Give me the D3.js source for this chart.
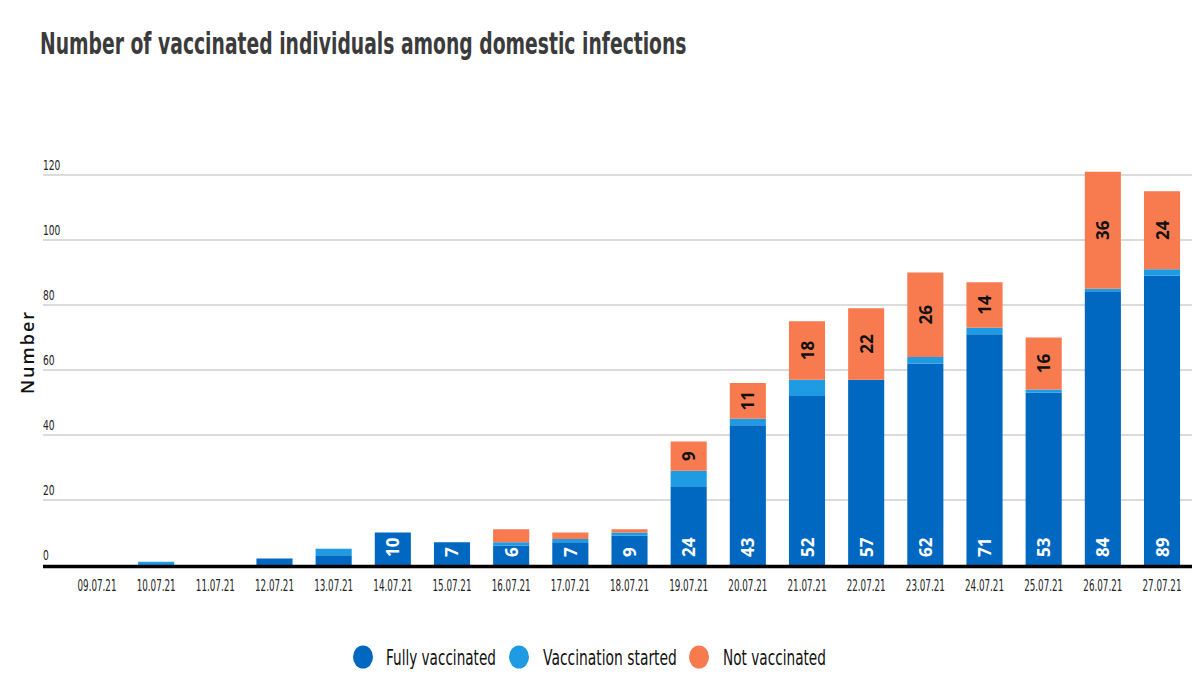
<!DOCTYPE html>
<html>
<head>
<meta charset="utf-8">
<script src="https://cdn.jsdelivr.net/npm/d3@7"></script>
<style>
  html, body { margin: 0; padding: 0; background: #fff; }
  svg { display: block; }
</style>
</head>
<body>
<svg id="chart" width="1200" height="681"></svg>
<script>
const dates = ["09.07.21","10.07.21","11.07.21","12.07.21","13.07.21","14.07.21","15.07.21","16.07.21","17.07.21","18.07.21","19.07.21","20.07.21","21.07.21","22.07.21","23.07.21","24.07.21","25.07.21","26.07.21","27.07.21"];
const fullyVaccinated    = [0, 0, 0, 2, 3, 10, 7, 6, 7, 9, 24, 43, 52, 57, 62, 71, 53, 84, 89];
const vaccinationStarted = [0, 1, 0, 0, 2, 0, 0, 1, 1, 1, 5, 2, 5, 0, 2, 2, 1, 1, 2];
const notVaccinated      = [0, 0, 0, 0, 0, 0, 0, 4, 2, 1, 9, 11, 18, 22, 26, 14, 16, 36, 24];
const yTicks = [0, 20, 40, 60, 80, 100, 120];
const seriesNames = ["Fully vaccinated", "Vaccination started", "Not vaccinated"];
const seriesColors = ["#0068c1", "#1e9be2", "#f87b4f"];
const title = "Number of vaccinated individuals among domestic infections";
const yAxisTitle = "Number";

const svg = d3.select("#chart");
const base = "'DejaVu Sans', sans-serif";

// squeeze a text horizontally to a target width (condensed look)
function fit(sel, width, tx, ty) {
  sel.each(function () {
    const w = this.getComputedTextLength();
    const s = w > 0 ? width / w : 1;
    d3.select(this).attr("transform", `translate(${tx},${ty}) scale(${s},1)`);
  });
}

const x = d3.scaleBand().domain(dates).range([67.4, 1191.6]).paddingInner(0.39).paddingOuter(0.195);
const y = d3.scaleLinear().domain([0, 120]).range([565, 175]);
const gridX0 = 43, gridX1 = 1192;

// Title
svg.append("text")
  .attr("x", 0).attr("y", 0)
  .attr("font-family", base).attr("font-weight", 700)
  .attr("font-size", 30).attr("fill", "#3b3b3b")
  .text(title)
  .call(fit, 647, 40, 54);

// Gridlines and y tick labels
const gy = svg.append("g");
yTicks.forEach(t => {
  if (t !== 0) {
    gy.append("line")
      .attr("x1", gridX0).attr("x2", gridX1)
      .attr("y1", y(t)).attr("y2", y(t))
      .attr("stroke", "#cfcfcf").attr("stroke-width", 1.5);
  }
  const s = d3.format("d")(t);
  gy.append("text")
    .attr("x", 0).attr("y", 0)
    .attr("font-family", base).attr("font-size", 13.5)
    .attr("fill", "#222")
    .text(s)
    .call(fit, s.length * 5.8, gridX0, y(t) - 5);
});

// Y axis title
svg.append("text")
  .attr("transform", `translate(34,${352}) rotate(-90)`)
  .attr("text-anchor", "middle")
  .attr("font-family", "'Open Sans', sans-serif").attr("font-weight", 600)
  .attr("font-size", 18).attr("letter-spacing", 2)
  .attr("fill", "#111")
  .text(yAxisTitle);

// Stacked data
const rows = dates.map((d, i) => ({ date: d, s0: fullyVaccinated[i], s1: vaccinationStarted[i], s2: notVaccinated[i] }));
const stack = d3.stack().keys(["s0", "s1", "s2"]);
const layers = stack(rows);

const gBars = svg.append("g");
layers.forEach((layer, li) => {
  gBars.selectAll(null).data(layer).enter().append("rect")
    .attr("x", d => x(d.data.date))
    .attr("width", x.bandwidth())
    .attr("y", d => y(d[1]))
    .attr("height", d => Math.max(0, y(d[0]) - y(d[1])))
    .attr("fill", seriesColors[li]);
});

// Labels
const labelFont = "'Open Sans', sans-serif";
rows.forEach(r => {
  const cx = x(r.date) + x.bandwidth() / 2;
  if (r.s0 >= 5) {
    svg.append("text")
      .attr("transform", `translate(${cx},${y(0) - 8}) rotate(-90)`)
      .attr("text-anchor", "start").attr("dominant-baseline", "central")
      .attr("font-family", labelFont).attr("font-weight", 700).attr("font-size", 17)
      .attr("fill", "#fff")
      .text(r.s0);
  }
  if (r.s2 >= 8) {
    const top = r.s0 + r.s1 + r.s2, bottom = r.s0 + r.s1;
    const cy = (y(top) + y(bottom)) / 2;
    svg.append("text")
      .attr("transform", `translate(${cx},${cy}) rotate(-90)`)
      .attr("text-anchor", "middle").attr("dominant-baseline", "central")
      .attr("font-family", labelFont).attr("font-weight", 700).attr("font-size", 17)
      .attr("fill", "#111")
      .text(r.s2);
  }
});

// Baseline
svg.append("line")
  .attr("x1", gridX0).attr("x2", gridX1)
  .attr("y1", y(0) + 1.5).attr("y2", y(0) + 1.5)
  .attr("stroke", "#000").attr("stroke-width", 3.5);

// X axis labels
const xAxis = d3.axisBottom(x).tickSize(0);
const gx = svg.append("g").attr("transform", `translate(0,${y(0) + 4})`).call(xAxis);
gx.select(".domain").remove();
gx.selectAll("text")
  .attr("dy", null).attr("y", 0)
  .attr("font-family", base).attr("font-size", 15)
  .attr("fill", "#222")
  .call(fit, 39, 0, 22);

// Legend
const legendItems = [
  { cx: 363, tx: 386, w: 110 },
  { cx: 519, tx: 543, w: 134 },
  { cx: 699, tx: 723, w: 103 }
];
legendItems.forEach((it, i) => {
  svg.append("ellipse")
    .attr("cx", it.cx).attr("cy", 657).attr("rx", 10).attr("ry", 11.5)
    .attr("fill", seriesColors[i]);
  svg.append("text")
    .attr("x", 0).attr("y", 0)
    .attr("font-family", base).attr("font-size", 22)
    .attr("fill", "#111")
    .text(seriesNames[i])
    .call(fit, it.w, it.tx, 665);
});
</script>
</body>
</html>
